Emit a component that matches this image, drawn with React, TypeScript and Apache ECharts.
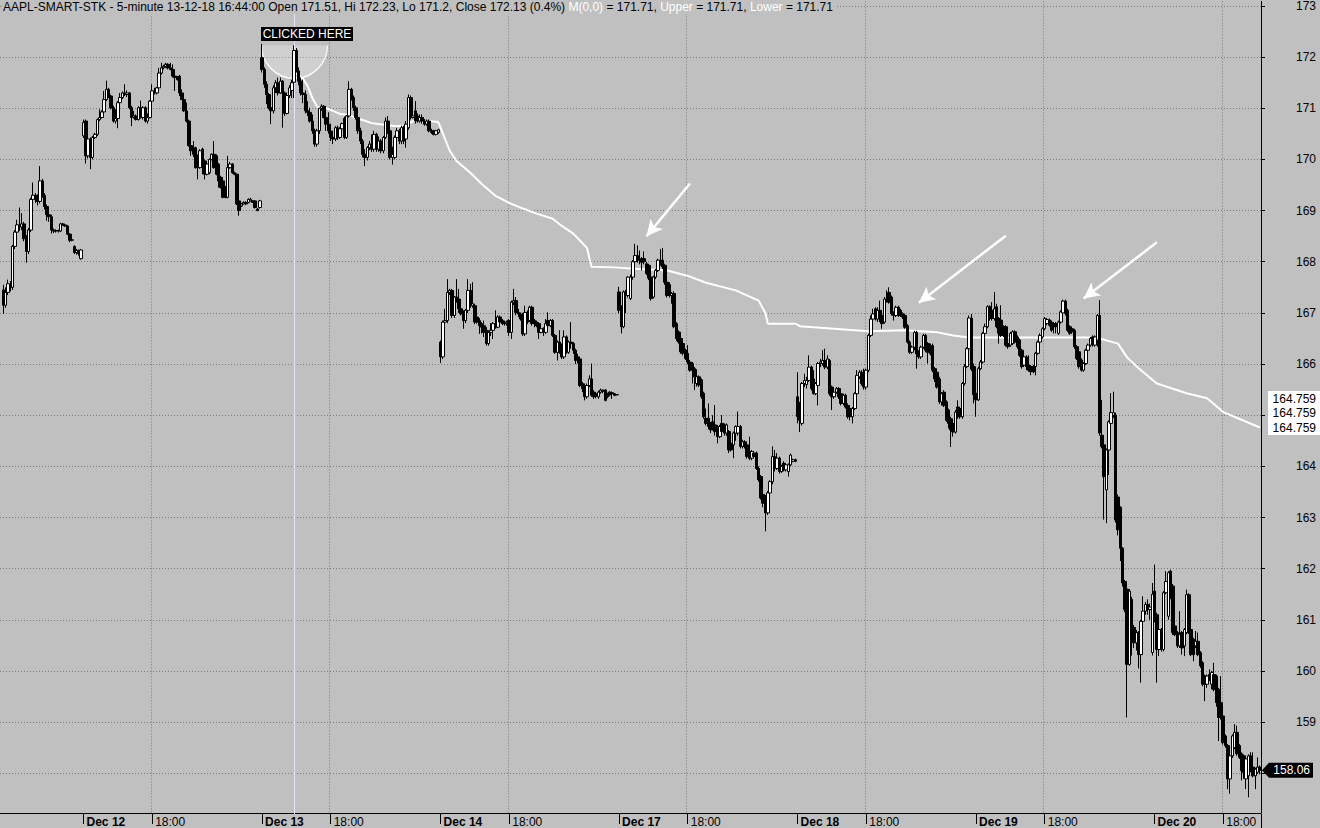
import React, { useEffect, useRef } from 'react';
import * as echarts from 'echarts';

// [open, close, low, high] per 5-minute bar; null = empty slot
type Bar = number[] | null;

const DAYS = ['Dec 11', 'Dec 12', 'Dec 13', 'Dec 14', 'Dec 17', 'Dec 18', 'Dec 19', 'Dec 20'];
const DAY_FIRST_SLOT = [42, 0, 0, 0, 0, 0, 0, 0];
const SESSION_START_MIN = 15 * 60 + 30;
const TITLE_HEAD = 'AAPL-SMART-STK - 5-minute 13-12-18 16:44:00';
const CLICK_CATEGORY = 'Dec 13 16:40';
const Y_MIN = 157.223;
const Y_MAX = 173.09;

const DEC11: Bar[] = [
  null,
  [167.45,167.15,166.98,167.55],[167.15,167.40,167.10,167.50],[167.40,167.57,167.35,167.65],[167.55,167.50,167.42,167.62],
  [167.50,168.30,167.45,168.33],[168.30,168.58,168.25,168.62],[168.58,168.72,168.50,168.82],[168.72,168.68,168.60,169.06],
  [168.68,168.74,168.62,168.95],[168.74,168.45,168.40,168.78],[168.45,168.20,167.98,168.52],[168.20,168.62,168.15,168.66],
  [168.62,169.22,168.58,169.25],[169.22,169.30,169.15,169.55],[169.30,169.22,169.15,169.34],[169.22,169.18,169.10,169.32],
  [169.18,169.58,169.14,169.87],[169.58,169.30,169.25,169.62],[169.30,169.08,169.02,169.34],[169.08,168.92,168.80,169.12],
  [168.92,168.88,168.78,168.98],[168.88,168.62,168.55,168.92],[168.62,168.60,168.56,168.65],[168.60,168.61,168.57,168.63],
  [168.61,168.60,168.57,168.63],[168.60,168.74,168.58,168.76],[168.74,168.72,168.70,168.76],[168.72,168.70,168.68,168.74],
  [168.70,168.54,168.52,168.72],[168.54,168.42,168.38,168.56],[168.42,168.43,168.40,168.45],[168.30,168.18,168.15,168.32],
  [168.18,168.22,168.14,168.25],[168.22,168.16,168.12,168.24],[168.06,168.23,168.04,168.25],
];

const DEC12: Bar[] = [
  [170.46,170.72,170.42,170.78],[170.75,170.07,169.92,170.78],[170.07,170.40,170.02,170.45],[170.40,170.04,169.81,170.43],
  [170.04,170.43,170.00,170.46],[170.43,170.49,170.40,170.52],[170.49,170.78,170.46,170.80],[170.78,170.82,170.75,170.98],
  [170.82,170.93,170.80,170.96],[170.93,171.17,170.90,171.34],[171.17,171.37,171.14,171.54],[171.37,171.24,171.20,171.40],
  [171.24,171.01,170.98,171.27],[171.01,170.75,170.72,171.05],[170.75,170.80,170.70,170.98],[170.80,171.11,170.61,171.14],
  [171.11,171.21,171.08,171.30],[171.21,171.30,171.18,171.33],[171.30,171.27,171.24,171.47],[171.27,171.30,171.22,171.35],
  [171.30,171.01,170.98,171.32],[171.01,170.82,170.65,171.05],[170.82,170.85,170.80,170.95],[170.85,170.78,170.76,170.88],
  [170.78,171.01,170.76,171.04],[171.01,170.82,170.80,171.15],[170.82,171.01,170.78,171.04],[171.01,170.75,170.72,171.04],
  [170.75,170.82,170.70,170.90],[170.82,171.14,170.80,171.16],[171.14,171.34,171.11,171.47],[171.34,171.30,171.27,171.40],
  [171.30,171.40,171.27,171.42],[171.40,171.69,171.37,171.79],[171.69,171.79,171.66,171.89],[171.79,171.82,171.76,171.85],
  [171.82,171.86,171.79,171.89],[171.86,171.79,171.76,171.88],[171.79,171.76,171.74,171.89],[171.76,171.63,171.60,171.86],
  [171.63,171.60,171.34,171.70],[171.60,171.56,171.54,171.63],[171.63,171.30,171.24,171.65],[171.30,171.17,171.16,171.37],
  [171.17,170.95,170.93,171.27],[170.95,170.75,170.72,171.11],[170.75,170.27,170.25,170.78],[170.27,170.17,170.07,170.36],
  [170.17,170.10,170.05,170.36],[170.23,169.84,169.82,170.25],[169.97,169.84,169.61,170.10],[169.84,170.17,169.82,170.20],
  [170.20,169.84,169.71,170.23],[169.97,169.71,169.61,170.00],[169.71,169.91,169.69,169.93],[169.74,170.00,169.71,170.02],
  [170.00,170.10,169.98,170.12],[170.10,169.84,169.82,170.36],[170.07,169.71,169.69,170.10],[169.91,169.58,169.45,169.93],
  [169.65,169.45,169.43,169.68],[169.58,169.26,169.24,169.60],[169.45,169.26,169.24,169.48],[169.26,169.84,169.24,170.07],
  [169.84,169.91,169.82,169.95],[169.91,169.74,169.72,169.93],[169.74,169.71,169.69,169.76],[169.71,169.13,169.11,169.73],
  [169.19,169.00,168.90,169.20],[169.09,169.13,169.07,169.15],[169.13,169.16,169.12,169.18],[169.16,169.13,169.11,169.18],
  [169.16,169.22,169.14,169.24],[169.19,169.22,169.18,169.25],[169.19,169.16,169.15,169.20],[169.19,169.06,169.04,169.20],
  [169.03,169.00,168.99,169.05],[169.06,169.19,169.04,169.21],
];

const DEC13: Bar[] = [
  [171.99,171.76,171.70,172.26],[171.76,171.47,171.40,171.80],[171.47,171.27,171.08,171.53],[171.27,171.01,170.98,171.30],
  [171.01,170.95,170.69,171.14],[170.95,171.40,170.90,171.45],[171.40,171.50,171.30,171.55],[171.50,171.30,171.25,171.60],
  [171.30,171.53,171.28,171.60],[171.53,171.30,170.62,171.55],[171.30,170.90,170.85,171.33],[170.90,171.25,170.88,171.30],
  [171.25,171.40,171.20,171.45],[171.35,171.50,171.20,171.56],[171.51,172.13,171.20,172.23],[172.13,171.73,171.70,172.18],
  [171.73,171.53,171.45,171.80],[171.53,171.30,171.25,171.60],[171.30,171.27,171.10,171.56],[171.27,170.95,170.90,171.35],
  [170.95,170.92,170.85,171.14],[170.92,170.75,170.72,171.01],[170.75,170.56,170.50,170.88],[170.56,170.30,170.25,170.60],
  [170.30,170.56,170.25,170.60],[170.56,171.00,170.50,171.01],[171.00,171.04,170.95,171.08],[171.04,170.82,170.80,171.06],
  [170.82,170.69,170.56,170.95],[170.69,170.56,170.50,170.92],[170.56,170.43,170.36,170.70],[170.43,170.40,170.30,170.56],
  [170.40,170.62,170.36,170.65],[170.62,170.43,170.38,170.66],[170.43,170.60,170.40,170.63],[170.60,170.70,170.55,170.72],
  [170.80,170.43,170.40,170.84],[170.43,170.85,170.40,170.87],[170.85,171.37,170.82,171.53],[171.37,171.21,171.15,171.40],
  [171.21,171.01,170.95,171.25],[171.01,170.82,170.78,171.05],[170.82,170.56,170.50,170.90],[170.56,170.36,170.30,170.62],
  [170.36,170.10,170.04,170.40],[170.10,170.04,169.87,170.20],[170.04,170.23,169.98,170.26],[170.23,170.30,170.18,170.36],
  [170.30,170.20,170.15,170.49],[170.20,170.49,170.15,170.56],[170.49,170.20,170.15,170.52],[170.20,170.36,170.15,170.45],
  [170.36,170.17,170.12,170.40],[170.17,170.43,170.12,170.46],[170.43,170.75,170.40,170.82],[170.75,170.56,170.50,170.85],
  [170.56,170.04,170.00,170.62],[170.04,170.10,169.90,170.25],[170.04,170.43,170.00,170.47],[170.43,170.56,170.40,170.62],
  [170.56,170.36,170.30,170.60],[170.36,170.62,170.30,170.66],[170.62,170.36,170.30,170.66],[170.40,170.69,170.23,170.75],
  [170.62,171.21,170.58,171.27],[171.21,170.82,170.78,171.25],[170.82,170.85,170.80,171.01],[170.95,170.75,170.70,171.14],
  [170.85,170.75,170.72,170.90],[170.75,170.82,170.72,170.88],[170.82,170.75,170.70,170.88],[170.75,170.69,170.66,170.79],
  [170.69,170.75,170.66,170.78],[170.75,170.56,170.53,170.78],[170.56,170.53,170.50,170.60],[170.56,170.49,170.47,170.58],
  [170.49,170.56,170.47,170.58],[170.53,170.58,170.50,170.60],
];

const DEC14: Bar[] = [
  [166.43,166.14,166.02,166.46],[166.14,166.82,166.10,166.85],[166.82,166.85,166.78,167.08],[166.85,167.40,166.80,167.66],
  [167.40,167.44,167.35,167.47],[167.44,166.95,166.90,167.47],[166.95,167.31,166.90,167.33],[167.31,167.27,167.20,167.66],
  [167.27,167.08,167.00,167.47],[167.08,166.98,166.95,167.20],[166.98,166.85,166.69,167.05],[166.85,167.05,166.80,167.08],
  [167.05,167.44,167.00,167.66],[167.44,167.14,167.10,167.57],[167.14,167.18,167.10,167.60],[167.14,166.82,166.78,167.18],
  [166.92,166.82,166.79,166.95],[166.85,166.75,166.59,166.90],[166.79,166.72,166.60,166.82],[166.75,166.62,166.53,166.85],
  [166.66,166.40,166.36,166.72],[166.40,166.62,166.36,166.66],[166.62,166.66,166.55,166.80],[166.66,166.79,166.49,166.82],
  [166.79,166.72,166.69,167.05],[166.72,166.92,166.70,166.95],[166.92,166.82,166.80,166.95],[166.85,166.79,166.76,166.88],
  [166.82,166.79,166.75,166.85],[166.79,166.82,166.75,166.85],[166.85,166.62,166.55,166.88],[166.62,167.21,166.49,167.24],
  [167.21,167.24,167.15,167.47],[167.24,167.01,166.95,167.31],[167.01,166.98,166.92,167.08],[166.98,166.88,166.85,167.01],
  [166.95,166.59,166.55,167.00],[166.59,167.01,166.55,167.14],[167.01,166.82,166.78,167.05],[166.85,167.11,166.82,167.14],
  [167.11,166.79,166.75,167.14],[166.85,166.79,166.72,166.88],[166.82,166.75,166.72,166.85],[166.79,166.62,166.49,166.82],
  [166.62,166.69,166.60,166.72],[166.69,166.62,166.55,166.72],[166.62,166.79,166.59,166.88],[166.85,166.75,166.72,167.01],
  [166.75,166.85,166.72,166.88],[166.85,166.56,166.53,166.88],[166.56,166.23,166.20,166.59],[166.23,166.43,166.07,166.46],
  [166.43,166.23,166.20,166.66],[166.33,166.14,166.10,166.40],[166.14,166.53,166.10,166.66],[166.53,166.23,166.20,166.56],
  [166.23,166.43,166.20,166.46],[166.43,166.40,166.30,166.82],[166.40,166.27,166.20,166.43],[166.27,166.07,166.00,166.30],
  [166.14,166.10,166.01,166.20],[166.10,165.58,165.55,166.14],[165.62,165.52,165.45,165.65],[165.58,165.36,165.29,165.62],
  [165.36,165.58,165.32,165.62],[165.58,165.71,165.55,165.78],[165.71,165.39,165.36,166.01],[165.45,165.36,165.32,165.49],
  [165.42,165.37,165.33,165.45],[165.36,165.45,165.32,165.48],[165.45,165.49,165.42,165.52],[165.49,165.47,165.43,165.50],
  [165.49,165.29,165.27,165.51],[165.42,165.36,165.33,165.44],[165.45,165.40,165.37,165.47],[165.44,165.42,165.32,165.46],
  [165.42,165.39,165.37,165.43],[165.40,165.40,165.39,165.41],
];

const DEC17: Bar[] = [
  [167.41,167.05,166.99,167.51],[167.12,166.73,166.60,167.15],[166.73,167.41,166.70,167.44],[167.41,167.38,166.99,167.45],
  [167.34,167.70,167.30,167.72],[167.28,167.70,167.25,167.75],[167.70,168.00,167.65,168.03],[168.00,168.12,167.96,168.35],
  [168.12,168.03,167.98,168.32],[168.06,168.03,167.95,168.22],[168.06,167.99,167.83,168.09],[168.06,168.00,167.95,168.20],
  [167.96,167.77,167.74,168.00],[167.93,167.68,167.64,167.96],[167.70,167.28,167.24,167.72],[167.31,167.70,167.28,167.73],
  [167.70,167.83,167.66,167.86],[167.83,168.03,167.80,168.06],[168.03,167.96,167.92,168.25],[168.03,167.90,167.86,168.27],
  [167.93,167.60,167.55,167.96],[167.60,167.34,167.30,167.64],[167.55,167.34,167.30,167.60],[167.34,167.38,167.18,167.41],
  [167.38,166.73,166.70,167.42],[166.79,166.50,166.45,166.82],[166.63,166.43,166.40,166.66],[166.50,166.24,166.20,166.63],
  [166.40,166.21,166.17,166.44],[166.27,166.11,166.08,166.30],[166.21,166.04,166.00,166.37],[166.04,165.88,165.85,166.08],
  [166.01,165.88,165.62,166.04],[165.91,165.75,165.49,165.94],[165.62,165.75,165.56,165.90],[165.75,165.59,165.55,165.78],
  [165.69,165.36,165.32,165.72],[165.43,164.97,164.93,165.46],[164.94,164.84,164.80,165.13],[164.94,164.78,164.72,165.23],
  [164.84,164.71,164.65,164.87],[164.87,164.74,164.70,165.00],[164.81,164.68,164.60,165.20],[164.78,164.58,164.45,164.81],
  [164.58,164.78,164.55,164.81],[164.84,164.68,164.62,165.00],[164.81,164.65,164.60,164.84],[164.65,164.81,164.60,164.84],
  [164.68,164.32,164.26,164.71],[164.45,164.32,164.29,164.48],[164.42,164.65,164.16,164.68],[164.65,164.78,164.50,164.80],
  [164.65,164.78,164.60,165.07],[164.78,164.39,164.35,164.81],[164.39,164.48,164.35,164.52],[164.48,164.39,164.35,164.51],
  [164.42,164.19,164.15,164.45],[164.29,164.16,164.12,164.58],[164.16,164.29,164.12,164.32],[164.26,164.19,164.16,164.29],
  [164.26,163.96,163.93,164.29],[163.96,163.74,163.70,164.00],[163.80,163.38,163.35,163.83],[163.45,163.28,163.20,163.54],
  [163.41,163.09,162.73,163.44],[163.09,163.48,163.05,163.52],[163.48,163.70,163.45,163.73],[163.70,164.19,163.65,164.39],
  [164.19,163.96,163.90,164.32],[163.96,164.16,163.93,164.26],[164.16,163.90,163.86,164.19],[163.90,164.00,163.87,164.03],
  [164.06,163.93,163.90,164.10],[163.93,164.03,163.90,164.06],[163.90,164.03,163.80,164.06],[164.03,164.22,164.00,164.25],
  [164.10,164.13,164.08,164.15],[164.13,164.10,164.08,164.15],
];

const DEC18: Bar[] = [
  [165.36,164.97,164.84,165.84],[165.06,164.90,164.67,165.26],[164.84,165.62,164.80,165.65],[165.62,165.68,165.55,165.81],
  [165.60,165.68,165.52,165.75],[165.68,165.94,165.65,166.17],[165.94,165.52,165.48,165.97],[165.71,165.42,165.40,165.88],
  [165.42,165.62,165.39,165.65],[165.58,166.01,165.19,166.04],[166.01,166.04,165.94,166.10],[166.01,166.07,165.97,166.27],
  [166.07,165.94,165.90,166.30],[165.94,166.10,165.90,166.17],[166.07,165.42,165.38,166.10],[165.55,165.36,165.10,165.58],
  [165.36,165.45,165.32,165.49],[165.45,165.52,165.42,165.55],[165.52,165.36,165.32,165.55],[165.42,165.23,165.19,165.45],
  [165.23,165.39,165.19,165.42],[165.39,165.16,165.13,165.42],[165.19,164.97,164.93,165.23],[165.13,164.97,164.90,165.16],
  [164.97,165.13,164.84,165.16],[165.13,165.42,165.10,165.45],[165.42,165.78,165.38,165.88],[165.75,165.84,165.71,165.88],
  [165.84,165.62,165.58,165.88],[165.81,165.55,165.50,165.91],[165.55,165.88,165.50,165.91],[165.88,166.56,165.84,166.59],
  [166.56,166.88,166.53,166.95],[166.88,166.98,166.85,167.08],[167.08,166.88,166.85,167.11],[166.88,167.05,166.82,167.11],
  [167.05,166.88,166.82,167.24],[166.95,166.79,166.69,166.98],[166.82,167.27,166.79,167.31],[167.27,167.24,167.20,167.44],
  [167.40,167.21,167.18,167.50],[167.31,166.98,166.95,167.34],[166.98,166.95,166.85,167.03],[166.95,167.11,166.92,167.14],
  [167.11,166.95,166.92,167.14],[167.05,166.95,166.92,167.08],[166.98,166.92,166.88,167.01],[166.95,166.72,166.69,166.98],
  [166.75,166.43,166.40,166.78],[166.43,166.23,166.20,166.46],[166.23,166.33,166.20,166.36],[166.33,166.62,166.27,166.65],
  [166.62,166.20,165.91,166.65],[166.23,166.14,166.10,166.27],[166.14,166.33,166.10,166.36],[166.33,166.56,166.30,166.59],
  [166.56,166.27,166.23,166.59],[166.40,166.23,166.01,166.43],[166.36,166.20,166.17,166.40],[166.36,165.88,165.84,166.40],
  [165.91,165.71,165.65,165.94],[165.84,165.55,165.52,165.88],[165.71,165.26,165.22,165.75],[165.26,165.42,165.19,165.45],
  [165.45,165.19,165.16,165.49],[165.26,164.90,164.87,165.29],[165.10,164.84,164.74,165.13],[164.93,164.71,164.38,164.97],
  [164.84,164.67,164.58,164.87],[164.67,165.06,164.64,165.10],[165.16,164.97,164.93,165.29],[165.13,164.97,164.93,165.16],
  [164.97,165.62,164.93,165.65],[165.62,165.95,165.58,166.00],[165.95,166.30,165.92,166.33],[166.30,166.90,166.27,166.95],
  [166.90,165.90,165.86,166.98],[165.95,165.40,165.23,166.01],
];

const DEC19: Bar[] = [
  [165.43,165.30,164.97,165.45],[165.30,165.91,165.28,165.95],[165.91,166.04,165.88,166.08],[166.04,166.60,166.01,166.63],
  [166.60,166.73,166.57,166.79],[166.73,167.12,166.70,167.15],[167.12,166.89,166.85,167.15],[167.05,166.89,166.85,167.21],
  [166.89,167.08,166.85,167.41],[167.12,166.73,166.70,167.18],[166.89,166.60,166.40,166.92],[166.86,166.56,166.53,167.15],
  [166.73,166.56,166.53,166.76],[166.73,166.37,166.34,166.76],[166.40,166.34,166.30,166.43],[166.37,166.60,166.34,166.63],
  [166.40,166.63,166.37,166.66],[166.63,166.43,166.40,166.66],[166.53,166.34,166.30,166.56],[166.47,166.17,166.14,166.50],
  [166.27,165.95,165.91,166.30],[165.98,166.14,165.95,166.17],[166.14,165.95,165.88,166.17],[165.98,165.88,165.85,166.17],
  [165.95,165.85,165.78,165.98],[165.95,165.85,165.82,165.98],[165.95,166.21,165.78,166.24],[166.21,166.43,166.18,166.46],
  [166.43,166.56,166.40,166.60],[166.53,166.69,166.50,166.72],[166.69,166.89,166.66,166.92],[166.79,166.87,166.76,166.90],
  [166.86,166.76,166.73,166.89],[166.82,166.66,166.63,166.85],[166.79,166.73,166.60,166.82],[166.79,166.73,166.60,166.82],
  [166.60,166.82,166.57,166.85],[166.82,167.02,166.79,167.05],[167.00,167.23,166.97,167.26],[167.23,166.99,166.95,167.26],
  [167.05,166.66,166.63,167.08],[166.73,166.60,166.57,166.76],[166.69,166.63,166.60,166.72],[166.66,166.34,166.30,166.69],
  [166.34,166.11,166.08,166.37],[166.24,165.95,165.91,166.27],[166.08,165.88,165.85,166.11],[165.88,166.01,165.85,166.04],
  [166.01,166.27,165.98,166.30],[166.27,166.37,166.24,166.40],[166.37,166.50,166.34,166.53],[166.53,166.40,166.34,166.56],
  [166.37,166.53,166.34,166.56],[166.47,166.95,166.34,166.98],[166.95,164.65,164.60,167.25],[164.61,164.39,164.35,165.30],
  [164.42,163.80,162.96,164.45],[163.54,164.32,162.89,164.35],[164.32,164.87,163.83,164.90],[164.84,165.05,164.80,165.43],
  [165.00,165.05,164.95,165.46],[165.00,162.95,162.90,165.05],[163.40,162.76,162.65,163.45],[163.20,162.40,162.15,163.22],
  [162.40,161.72,161.65,162.42],[161.75,161.20,161.15,161.78],[161.60,160.13,159.09,161.62],[160.13,161.56,160.10,161.60],
  [161.40,160.85,160.30,161.45],[160.85,160.55,160.45,160.90],[160.55,160.75,160.40,160.80],[160.75,160.32,160.05,160.78],
  [160.32,160.97,159.77,161.00],[160.97,161.17,160.90,161.46],[161.17,161.30,161.10,161.35],[161.30,161.20,161.10,161.40],
  [161.20,161.25,161.00,161.32],[160.36,161.50,160.30,161.72],
];

const DEC20: Bar[] = [
  [161.56,161.01,160.95,162.08],[161.10,160.42,159.77,161.14],[160.42,160.81,160.29,160.84],[160.81,160.42,160.38,160.84],
  [160.42,161.53,160.38,161.56],[161.53,161.75,161.50,161.95],[161.07,161.92,161.00,161.95],[161.95,161.46,161.40,161.98],
  [161.66,160.75,160.70,161.70],[160.88,160.71,160.68,161.17],[160.75,160.49,160.45,160.78],[160.49,160.71,160.45,161.17],
  [160.75,160.45,160.32,160.78],[160.49,160.81,160.29,160.84],[160.75,161.49,160.72,161.59],[161.49,160.75,160.72,161.52],
  [160.81,160.32,160.29,160.84],[160.62,160.32,160.19,160.65],[160.49,160.58,160.45,160.78],[160.58,160.32,160.29,160.75],
  [160.36,160.10,160.06,160.39],[160.16,159.74,159.70,160.19],[159.90,159.74,159.41,159.93],[159.74,159.90,159.67,159.93],
  [159.93,159.84,159.80,160.03],[159.74,159.97,159.64,160.00],[159.93,159.64,159.60,160.16],[159.90,159.38,159.30,159.93],
  [159.64,159.09,158.63,159.67],[159.38,159.09,159.05,159.90],[159.12,158.60,158.56,159.15],[158.73,158.54,158.50,158.76],
  [158.54,157.89,157.69,158.57],[157.89,158.34,157.60,158.37],[158.34,158.73,158.30,158.76],[158.50,158.80,158.47,158.96],
  [158.80,158.38,158.34,158.93],[158.54,158.31,158.28,158.57],[158.38,158.05,157.86,158.41],[158.34,158.02,157.89,158.37],
  [157.89,158.28,157.69,158.31],[157.95,158.34,157.53,158.37],[158.34,158.05,158.02,158.41],[158.12,157.95,157.92,158.41],
  [157.95,158.08,157.69,158.11],[158.02,158.12,157.99,158.31],[158.12,158.06,157.98,158.15],
];

const DAY_BARS: Bar[][] = [DEC11, DEC12, DEC13, DEC14, DEC17, DEC18, DEC19, DEC20];

// "M(0,0)" line anchored at the clicked bar: [bar index, value]
const M_LINE: number[][] = [
  [128,171.71],[132,171.57],[134,171.43],[136,171.20],[138,171.04],[140,171.00],[142,171.00],[145,170.95],
  [148,170.89],[152,170.87],[155,170.81],[158,170.77],[162,170.71],[169,170.67],[173,170.65],[177,170.67],
  [180,170.75],[187,170.75],[191,170.73],[192,170.62],[196,170.17],[199,169.97],[205,169.74],[210,169.52],
  [216,169.29],[222,169.15],[228,169.04],[234,168.94],[241,168.84],[245,168.70],[250,168.55],[253,168.41],
  [256,168.27],[257,168.08],[258,167.90],[268,167.89],[275,167.87],[291,167.83],[301,167.71],[308,167.59],
  [321,167.44],[331,167.24],[334,166.99],[335,166.79],[347,166.79],[349,166.74],[361,166.70],[379,166.64],
  [395,166.66],[409,166.62],[416,166.56],[423,166.52],[442,166.52],[476,166.52],[480,166.50],[488,166.40],
  [492,166.13],[497,165.92],[505,165.62],[518,165.43],[527,165.33],[534,165.06],[550,164.759],
];

// white annotation arrows: from [bar, price] to [bar, price]
const ARROWS: number[][][] = [
  [[301, 169.53], [282, 168.50]],
  [[439, 168.51], [401, 167.20]],
  [[505, 168.38], [473, 167.28]],
];

const FONT = "'Liberation Sans', Arial, Helvetica, sans-serif";
const GRID_RIGHT = 59;
const GRID_BOTTOM = 14;

function pad2(n: number) { return n < 10 ? '0' + n : '' + n; }

function buildCategories() {
  const cats: string[] = [];
  const bars: any[] = [];
  DAY_BARS.forEach((day, k) => {
    day.forEach((b, j) => {
      const m = SESSION_START_MIN + 5 * (DAY_FIRST_SLOT[k] + j);
      cats.push(`${DAYS[k]} ${pad2(Math.floor(m / 60))}:${pad2(m % 60)}`);
      bars.push(b ? b : '-');
    });
  });
  return { cats, bars };
}

export default function App() {
  const ref = useRef<HTMLDivElement>(null);
  useEffect(() => {
    document.body.style.margin = '0';
    const el = ref.current!;
    const chart = echarts.init(el, null, { renderer: 'svg' });
    const { cats, bars } = buildCategories();
    const N = cats.length;
    const clickIdx = cats.indexOf(CLICK_CATEGORY);
    const clickBar = bars[clickIdx] as number[];
    const prevBar = bars[clickIdx - 1] as number[];
    const pct = ((clickBar[1] - prevBar[1]) / prevBar[1] * 100).toFixed(1);
    const lastBar = bars[N - 1] as number[];
    const lastClose = lastBar[1];
    const mFirst = M_LINE[0][1];
    const mLast = M_LINE[M_LINE.length - 1];

    const isLabel = (_i: number, v: string) => v.endsWith(' 15:30') || v.endsWith(' 18:00');
    const is18 = (_i: number, v: string) => v.endsWith(' 18:00');
    // axis labels hidden behind the value boxes on the right
    const yLabel = (v: number) => {
      if (Math.abs(v - Math.round(v)) > 1e-6) return '';
      const r = Math.round(v);
      if (Math.abs(r - lastClose) < 0.35) return '';
      if (r > mLast[1] - 0.3 && r < mLast[1] + 0.9) return '';
      return String(r);
    };

    chart.setOption({
      animation: false,
      backgroundColor: '#c0c0c0',
      grid: { left: 0, right: GRID_RIGHT, top: 0, bottom: GRID_BOTTOM, containLabel: false },
      xAxis: {
        type: 'category',
        data: cats,
        boundaryGap: true,
        axisLine: { show: true, lineStyle: { color: '#000', width: 1 } },
        axisTick: { show: true, alignWithLabel: true, length: 11, interval: isLabel, lineStyle: { color: '#000' } },
        axisLabel: {
          interval: isLabel,
          align: 'left',
          margin: 3,
          padding: [0, 0, 0, 3],
          color: '#000',
          fontSize: 12,
          fontFamily: FONT,
          formatter: (v: string) => (v.endsWith(' 15:30') ? `{b|${v.slice(0, -6)}}` : '18:00'),
          rich: { b: { fontWeight: 'bold', fontSize: 12, fontFamily: FONT, color: '#000' } },
        },
        splitLine: { show: true, interval: is18, lineStyle: { color: '#7a7a7a', type: [1, 2], width: 1 } },
      },
      yAxis: {
        type: 'value',
        position: 'right',
        min: Y_MIN,
        max: Y_MAX,
        minInterval: 1,
        maxInterval: 1,
        splitNumber: 16,
        axisLine: { show: true, lineStyle: { color: '#000', width: 1 } },
        axisTick: { show: true, length: 4, lineStyle: { color: '#000' } },
        axisLabel: {
          show: true,
          align: 'right',
          margin: 55,
          color: '#000',
          fontSize: 12,
          fontFamily: FONT,
          showMinLabel: false,
          showMaxLabel: false,
          formatter: yLabel,
        },
        splitLine: { show: true, showMinLine: false, showMaxLine: false, lineStyle: { color: '#7a7a7a', type: [1, 2], width: 1 } },
      },
      series: [
        {
          type: 'line',
          name: 'M(0,0)',
          data: M_LINE,
          showSymbol: false,
          symbol: 'none',
          silent: true,
          z: 2,
          lineStyle: { color: '#ffffff', width: 2 },
          markLine: {
            silent: true,
            symbol: ['none', 'arrow'],
            symbolSize: [12, 16],
            label: { show: false },
            lineStyle: { color: '#ffffff', width: 2.5, type: 'solid' },
            data: ARROWS.map((a) => [{ coord: a[0] }, { coord: a[1] }]),
          },
        },
        {
          type: 'candlestick',
          name: 'AAPL',
          data: bars,
          large: false,
          barWidth: 3,
          silent: true,
          z: 3,
          itemStyle: {
            color: '#ffffff',
            color0: '#000000',
            borderColor: '#000000',
            borderColor0: '#000000',
            borderColorDoji: '#000000',
            borderWidth: 1,
          },
        },
      ],
    });

    const W = chart.getWidth();
    const H = chart.getHeight();
    const axisX = W - GRID_RIGHT;
    const plotBottom = H - GRID_BOTTOM;
    const p = chart.convertToPixel({ gridIndex: 0 }, [clickIdx, clickBar[3]]) as number[];
    const cx = Math.round(p[0]) + 0.5;
    const hy = p[1];
    const mY = (chart.convertToPixel({ gridIndex: 0 }, [mLast[0], mLast[1]]) as number[])[1];
    const cY = (chart.convertToPixel({ gridIndex: 0 }, [N - 1, lastClose]) as number[])[1];
    const mTxt = mFirst.toFixed(2);
    const titleText =
      `{k|${TITLE_HEAD} Open ${clickBar[0]}, Hi ${clickBar[3]}, Lo ${clickBar[2]}, Close ${clickBar[1]} (${pct}%) }` +
      `{w|M(0,0)}{k| = ${mTxt}, }{w|Upper}{k| = ${mTxt}, }{w|Lower}{k| = ${mTxt}}`;

    const graphic: any[] = [
      {
        type: 'line', z: 1, silent: true,
        shape: { x1: cx, y1: 0, x2: cx, y2: plotBottom },
        style: { stroke: '#e2e2f6', lineWidth: 1 },
      },
      {
        type: 'sector', z: 1, silent: true,
        shape: { cx: cx, cy: hy, r0: 0, r: 33, startAngle: 0, endAngle: Math.PI, clockwise: true },
        style: { fill: 'rgba(255,255,255,0.25)' },
      },
      {
        type: 'arc', z: 1, silent: true,
        shape: { cx: cx, cy: hy, r: 33, startAngle: 0, endAngle: Math.PI, clockwise: true },
        style: { stroke: '#ffffff', lineWidth: 1.2, fill: null },
      },
      {
        type: 'text', z: 100, x: 1, y: 0, silent: true,
        style: {
          text: titleText,
          fontSize: 12,
          fontFamily: FONT,
          backgroundColor: '#c0c0c0',
          padding: [1, 2, 1, 2],
          rich: {
            k: { fill: '#000000', fontSize: 12, fontFamily: FONT },
            w: { fill: '#ffffff', fontSize: 12, fontFamily: FONT },
          },
        },
      },
      {
        type: 'rect', z: 100, silent: true,
        shape: { x: cx - 33.5, y: 27, width: 92, height: 14 },
        style: { fill: '#000000' },
      },
      {
        type: 'text', z: 101, silent: true, x: cx - 33.5 + 46, y: 34,
        style: { text: 'CLICKED HERE', fill: '#ffffff', fontSize: 12, fontFamily: FONT, align: 'center', verticalAlign: 'middle' },
      },
      {
        type: 'line', z: 100, silent: true,
        shape: { x1: axisX + 0.5, y1: plotBottom, x2: axisX + 0.5, y2: H },
        style: { stroke: '#000', lineWidth: 1 },
      },
    ];
    for (let k = 0; k < 3; k++) {
      const yc = mY - k * 14.5;
      graphic.push({
        type: 'rect', z: 100, silent: true,
        shape: { x: axisX + 7, y: yc - 7.5, width: W - axisX - 7, height: 15 },
        style: { fill: '#ffffff' },
      });
      graphic.push({
        type: 'text', z: 101, silent: true, x: W - 4, y: yc,
        style: { text: mLast[1].toFixed(3), fill: '#000', fontSize: 12, fontFamily: FONT, align: 'right', verticalAlign: 'middle' },
      });
    }
    graphic.push({
      type: 'polygon', z: 100, silent: true,
      shape: { points: [[axisX + 1, cY], [axisX + 8, cY - 7.5], [W - 7, cY - 7.5], [W - 7, cY + 7.5], [axisX + 8, cY + 7.5]] },
      style: { fill: '#000000' },
    });
    graphic.push({
      type: 'text', z: 101, silent: true, x: W - 10, y: cY,
      style: { text: lastClose.toFixed(2), fill: '#ffffff', fontSize: 12, fontFamily: FONT, align: 'right', verticalAlign: 'middle' },
    });
    chart.setOption({ graphic });

    return () => chart.dispose();
  }, []);
  return <div ref={ref} style={{ width: 1320, height: 828 }} />;
}
